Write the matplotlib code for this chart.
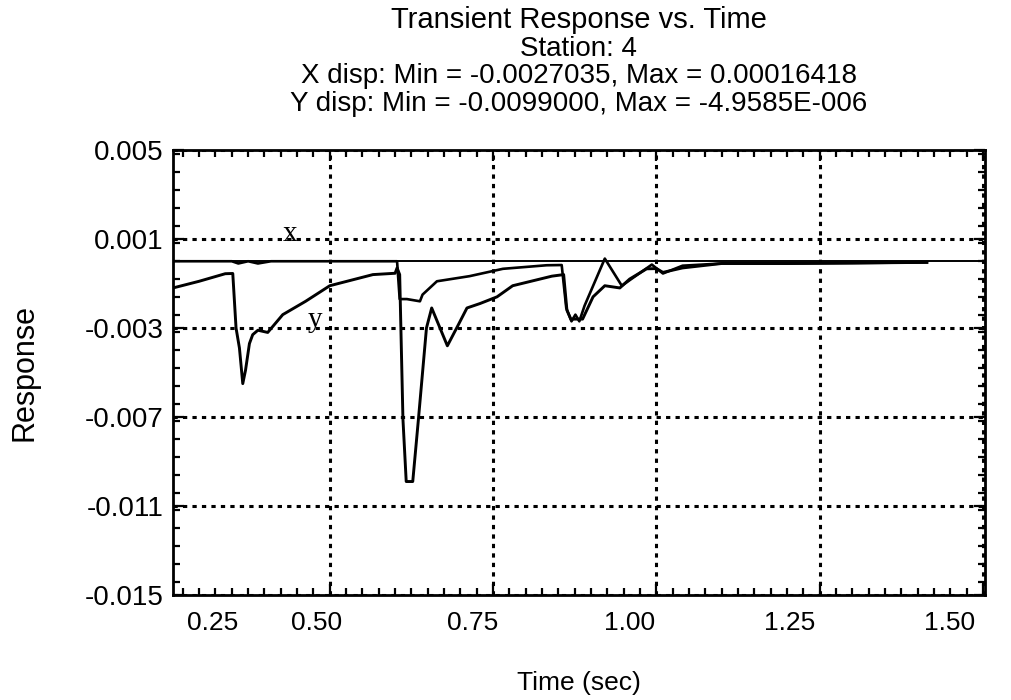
import matplotlib
matplotlib.use("Agg")
import matplotlib.pyplot as plt
from matplotlib.ticker import MultipleLocator, FixedLocator

# * - - - Title text
title_lines = [
    "Transient Response vs. Time",
    "Station: 4",
    "X disp: Min = -0.0027035, Max = 0.00016418",
    "Y disp: Min = -0.0099000, Max = -4.9585E-006",
]

# * - - - x displacement
x_time = [0.26, 0.35, 0.36, 0.375, 0.39, 0.41, 0.43, 0.60, 0.603, 0.607,
          0.618, 0.638, 0.642, 0.664, 0.714, 0.765, 0.832, 0.855, 0.862,
          0.870, 0.876, 0.882, 0.890, 0.921, 0.947, 0.993, 1.01, 1.04,
          1.10, 1.20, 1.30, 1.414]
x_disp = [0.0, 0.0, -0.0001, 0.0, -0.0001, 0.0, 0.0, 0.0, 0.0, -0.0017,
          -0.0017, -0.0018, -0.0015, -0.0009, -0.00067, -0.00034, -0.00018,
          -0.00017, -0.0021, -0.0027, -0.0024, -0.0027, -0.0020, 0.00012,
          -0.0011, -0.00015, -0.00055, -0.0002, -0.0001, -0.0001, -0.00008,
          -0.00005]

# * - - - y displacement
y_time = [0.26, 0.30, 0.34, 0.3515, 0.3565, 0.3617, 0.3668, 0.371, 0.377,
          0.382, 0.39, 0.405, 0.428, 0.463, 0.50, 0.566, 0.60, 0.603, 0.607,
          0.612, 0.617, 0.627, 0.636, 0.648, 0.656, 0.68, 0.696, 0.71, 0.73,
          0.756, 0.78, 0.84, 0.858, 0.863, 0.869, 0.887, 0.903, 0.921, 0.944,
          0.959, 0.985, 1.0, 1.01, 1.04, 1.10, 1.20, 1.30, 1.414]
y_disp = [-0.0012, -0.0009, -0.00056, -0.00055, -0.0030, -0.0039, -0.0055,
          -0.0049, -0.0037, -0.0033, -0.0031, -0.0032, -0.0024, -0.0018,
          -0.0011, -0.0006, -0.00054, -0.0003, -0.0006, -0.0071, -0.0099,
          -0.0099, -0.0070, -0.0030, -0.0021, -0.0038, -0.0029, -0.0021,
          -0.0019, -0.0016, -0.0011, -0.00067, -0.0006, -0.0022, -0.0026,
          -0.0026, -0.0016, -0.0011, -0.0012, -0.0008, -0.00034, -0.00033,
          -0.0005, -0.0003, -0.0001, -0.0001, -0.00008, -0.00005]

# * - - - Axis ticks and labels
y_ticks = [0.005, 0.001, -0.003, -0.007, -0.011, -0.015]
y_ticklabels = ["0.005", "0.001", "-0.003", "-0.007", "-0.011", "-0.015"]
x_grid = [0.50, 0.75, 1.00, 1.25, 1.50]
x_ticklabels = ["0.25", "0.50", "0.75", "1.00", "1.25", "1.50"]
x_label_pos = [0.321, 0.479, 0.718, 0.959, 1.204, 1.449]  # where the scan prints them

plt.rcParams["font.family"] = ["Liberation Sans", "DejaVu Sans"]

fig = plt.figure(figsize=(10.11, 7.0), dpi=100)
ax = fig.add_axes([173 / 1011, 105 / 700, 812 / 1011, 445 / 700])

ax.set_xlim(0.26, 1.503)
ax.set_ylim(-0.015, 0.005)

# * - - - Curves
ax.axhline(0.0, color="black", lw=1.4, zorder=3)
ax.plot(x_time, x_disp, color="black", lw=1.9, zorder=4)
ax.plot(y_time, y_disp, color="black", lw=2.1, zorder=4)

ax.text(0.439, 0.0009, "x", family="Liberation Serif", fontsize=21,
        ha="center", va="baseline")
ax.text(0.477, -0.00295, "y", family="Liberation Serif", fontsize=21,
        ha="center", va="baseline")

# * - - - Ticks and grid
ax.yaxis.set_major_locator(FixedLocator(y_ticks))
ax.set_yticklabels(y_ticklabels)
ax.yaxis.set_minor_locator(MultipleLocator(0.0008))
ax.xaxis.set_major_locator(FixedLocator(x_grid))
ax.xaxis.set_minor_locator(MultipleLocator(0.025))
ax.set_xticklabels([])

ax.tick_params(which="both", direction="in", top=True, right=True,
               width=1.6, color="black")
ax.tick_params(which="major", length=8)
ax.tick_params(which="minor", length=5)
ax.tick_params(axis="y", labelsize=20, pad=7)

ax.grid(True, which="major", color="black", lw=2.2, linestyle=(0, (1.4, 1.7)))

for pos, lbl in zip(x_label_pos, x_ticklabels):
    ax.text(pos, -0.035, lbl, transform=ax.get_xaxis_transform(),
            ha="center", va="top", fontsize=19)

for sp in ax.spines.values():
    sp.set_linewidth(2.0)

ax.set_xlabel("Time (sec)", fontsize=19, va="center")
ax.xaxis.set_label_coords(0.5, -(683 - 595) / 445)
ax.set_ylabel("Response", fontsize=22, va="center")
ax.yaxis.set_label_coords(-(173 - 25) / 812, 0.5)

# * - - - Title, one line at a time
title_sizes = [21, 20, 20, 20]
for i, line in enumerate(title_lines):
    fig.text(579 / 1011, 1 - (28 + 27.7 * i) / 700, line, ha="center",
             va="baseline", fontsize=title_sizes[i])

fig.savefig("out.png", dpi=100)
